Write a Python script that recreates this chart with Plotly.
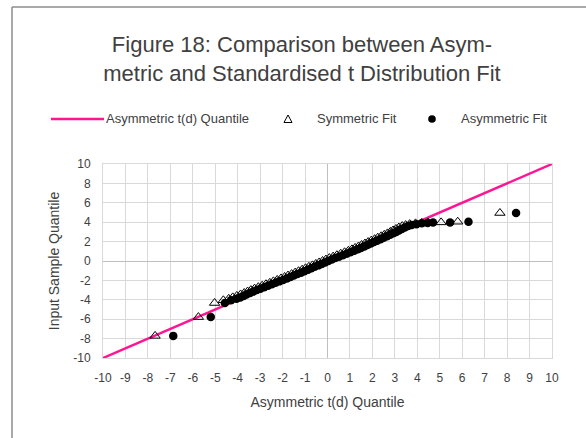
import plotly.graph_objects as go

# ---------------- data ----------------
line_x = [-10, 10]
line_y = [-10, 10]

sample_q = [-7.72, -5.78, -4.33, -4.05, -3.90, -3.75, -3.60, -3.45, -3.30, -3.15,
            -3.00, -2.85, -2.70, -2.55, -2.40, -2.25, -2.10, -1.95, -1.80, -1.65,
            -1.50, -1.35, -1.20, -1.05, -0.90, -0.75, -0.60, -0.45, -0.30, -0.15,
            0.00, 0.15, 0.30, 0.45, 0.60, 0.75, 0.90, 1.05, 1.20, 1.35,
            1.50, 1.65, 1.80, 1.95, 2.10, 2.25, 2.40, 2.55, 2.70, 2.85,
            3.00, 3.15, 3.30, 3.45, 3.60, 3.70, 3.80, 3.88, 3.93, 3.96,
            3.98, 4.05, 4.95]

sym_x = [-7.68, -5.75, -5.03, -4.64, -4.40, -4.22, -4.04, -3.87, -3.71, -3.56,
         -3.41, -3.25, -3.08, -2.91, -2.74, -2.57, -2.41, -2.24, -2.07, -1.91,
         -1.76, -1.60, -1.44, -1.29, -1.13, -0.98, -0.83, -0.67, -0.52, -0.37,
         -0.22, -0.07, 0.08, 0.25, 0.42, 0.59, 0.76, 0.93, 1.09, 1.23,
         1.38, 1.52, 1.67, 1.81, 1.95, 2.10, 2.24, 2.39, 2.53, 2.67,
         2.80, 2.92, 3.05, 3.18, 3.33, 3.48, 3.66, 3.92, 4.20, 4.48,
         5.06, 5.80, 7.68]

asym_x = [-6.87, -5.20, -4.57, -4.30, -4.05, -3.89, -3.74, -3.61, -3.45, -3.30,
          -3.15, -2.99, -2.82, -2.65, -2.48, -2.31, -2.15, -1.98, -1.81, -1.65,
          -1.50, -1.34, -1.18, -1.03, -0.87, -0.72, -0.57, -0.41, -0.26, -0.11,
          0.04, 0.19, 0.34, 0.51, 0.68, 0.85, 1.02, 1.19, 1.35, 1.49,
          1.64, 1.78, 1.93, 2.07, 2.21, 2.36, 2.50, 2.65, 2.79, 2.93,
          3.06, 3.18, 3.31, 3.44, 3.59, 3.75, 3.96, 4.20, 4.46, 4.70,
          5.46, 6.28, 8.40]

x_tick_vals = list(range(-10, 11, 1))
x_tick_text = ["-10", "-9", "-8", "-7", "-6", "-5", "-4", "-3", "-2", "-1", "0",
               "1", "2", "3", "4", "5", "6", "7", "8", "9", "10"]
y_tick_vals = list(range(-10, 11, 2))
y_tick_text = ["-10", "-8", "-6", "-4", "-2", "0", "2", "4", "6", "8", "10"]

series_names = ["Asymmetric t(d) Quantile", "Symmetric Fit", "Asymmetric Fit"]
title_text = "Figure 18: Comparison between Asym-<br>metric and Standardised t Distribution Fit"
x_title = "Asymmetric t(d) Quantile"
y_title = "Input Sample Quantile"

# ---------------- layout geometry ----------------
W, H = 586, 438
L, R, T, B = 103, 34, 164, 80
PW, PH = W - L - R, H - T - B
PINK = "#FF1493"
FONT = "Liberation Sans, Arial, sans-serif"
TXT = "#404040"


def px(x):
    return (x - L) / PW


def py(y):
    return (H - B - y) / PH


fig = go.Figure()
fig.add_trace(go.Scatter(x=line_x, y=line_y, mode="lines", name=series_names[0],
                         line=dict(color=PINK, width=2.5), showlegend=False))
fig.add_trace(go.Scatter(x=sym_x, y=sample_q, mode="markers", name=series_names[1],
                         marker=dict(symbol="triangle-up-open", size=9, color="black",
                                     line=dict(width=1, color="black")), showlegend=False))
fig.add_trace(go.Scatter(x=asym_x, y=sample_q, mode="markers", name=series_names[2],
                         marker=dict(symbol="circle", size=8.5, color="black"), showlegend=False))

shapes = []
# outer frame (left and top only visible)
shapes.append(dict(type="line", xref="paper", yref="paper", x0=px(12), x1=px(12),
                   y0=py(7), y1=py(H + 5), line=dict(color="#8c8c8c", width=1.5)))
shapes.append(dict(type="line", xref="paper", yref="paper", x0=px(12), x1=px(W + 5),
                   y0=py(7), y1=py(7), line=dict(color="#8c8c8c", width=1.5)))
# legend symbols
LY = 119
shapes.append(dict(type="line", xref="paper", yref="paper", x0=px(51), x1=px(104),
                   y0=py(LY), y1=py(LY), line=dict(color=PINK, width=2.5)))
tri = "M {:.5f},{:.5f} L {:.5f},{:.5f} L {:.5f},{:.5f} Z".format(
    px(284), py(LY + 3.5), px(292), py(LY + 3.5), px(288), py(LY - 4))
shapes.append(dict(type="path", xref="paper", yref="paper", path=tri,
                   line=dict(color="black", width=1)))
shapes.append(dict(type="circle", xref="paper", yref="paper",
                   x0=px(428.2), x1=px(435.8), y0=py(LY + 3.8), y1=py(LY - 3.8),
                   fillcolor="black", line=dict(color="black", width=0)))

annotations = []
for txt, xpos in [(series_names[0], 104), (series_names[1], 315), (series_names[2], 459)]:
    annotations.append(dict(text=txt, xref="paper", yref="paper", x=px(xpos), y=py(LY),
                            xanchor="left", yanchor="middle", showarrow=False,
                            font=dict(family=FONT, size=13, color=TXT)))

axis_common = dict(range=[-10, 10], showgrid=True, gridcolor="#d9d9d9", gridwidth=1,
                   zeroline=True, zerolinecolor="#bfbfbf", zerolinewidth=1.3,
                   showline=True, linecolor="#d9d9d9", linewidth=1, mirror=True,
                   ticks="outside", ticklen=9, tickcolor="rgba(0,0,0,0)",
                   tickfont=dict(family=FONT, size=12, color=TXT))

fig.update_layout(
    width=W, height=H,
    margin=dict(l=L, r=R, t=T, b=B, autoexpand=False),
    paper_bgcolor="white", plot_bgcolor="white",
    title=dict(text=title_text, xref="container", yref="container",
               x=302 / W, xanchor="center", y=1 - 52 / H, yanchor="middle",
               font=dict(family=FONT, size=22, color=TXT)),
    xaxis=dict(tickvals=x_tick_vals, ticktext=x_tick_text,
               title=dict(text=x_title, standoff=12,
                          font=dict(family=FONT, size=14, color=TXT)), **axis_common),
    yaxis=dict(tickvals=y_tick_vals, ticktext=y_tick_text,
               title=dict(text=y_title, standoff=10,
                          font=dict(family=FONT, size=14, color=TXT)), **axis_common),
    shapes=shapes, annotations=annotations, showlegend=False,
)

fig.write_html("out.html")
